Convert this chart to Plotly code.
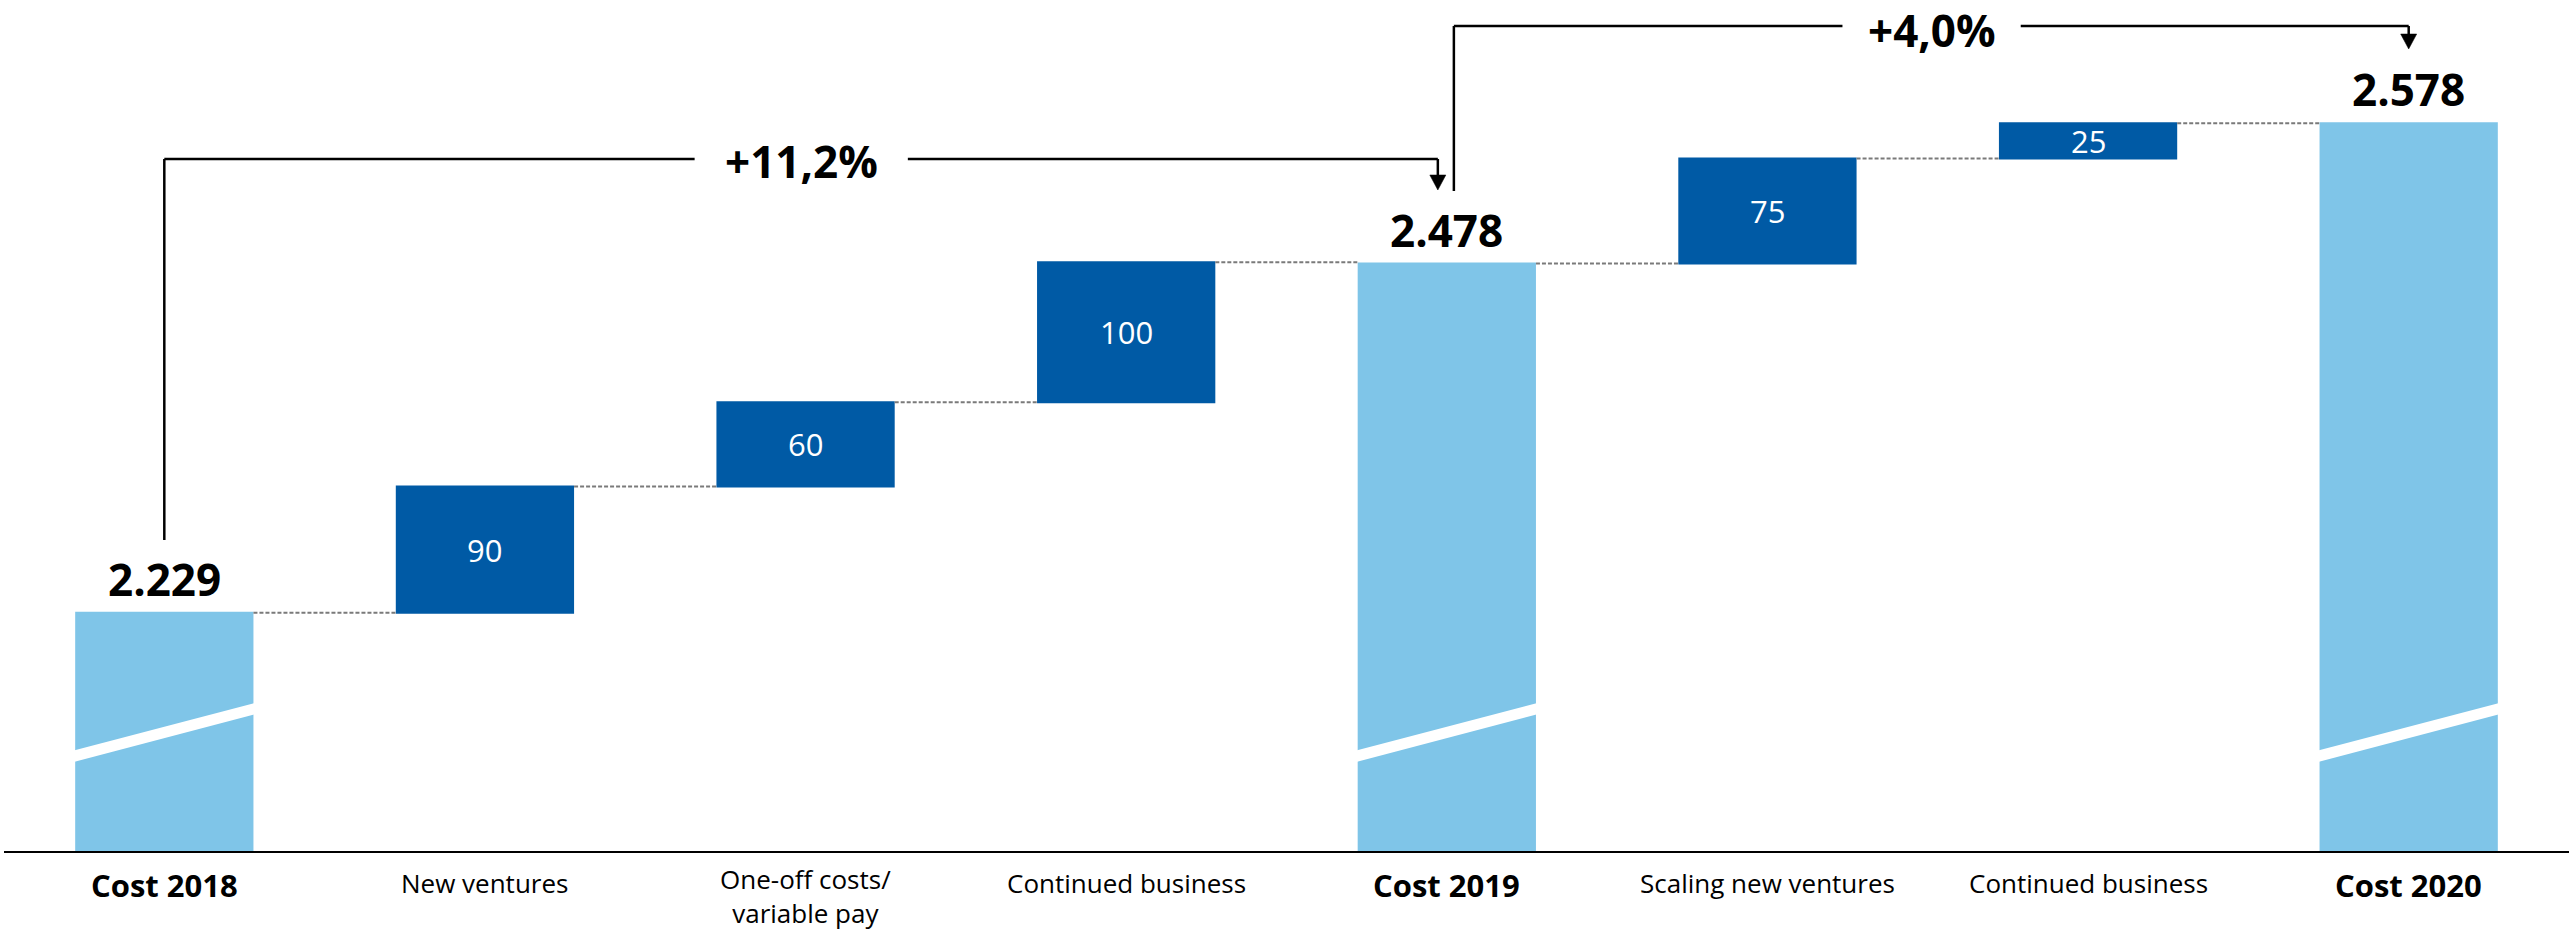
import plotly.graph_objects as go

# ---- data ----
categories = ["Cost 2018", "New ventures", "One-off costs/<br>variable pay", "Continued business",
              "Cost 2019", "Scaling new ventures", "Continued business", "Cost 2020"]
values = [2229, 90, 60, 100, 2478, 75, 25, 2578]
measures = ["absolute", "relative", "relative", "relative", "absolute", "relative", "relative", "absolute"]
value_labels = ["2.229", "90", "60", "100", "2.478", "75", "25", "2.578"]
growth_labels = ["+11,2%", "+4,0%"]
growth_from = [0, 4]
growth_to = [4, 7]

# ---- style ----
LIGHT = "#7FC5E8"
DARK = "#005AA5"
FONT = "Open Sans"
W, H = 2569, 931
MT, MB, ML, MR = 0, 80, 4, 0
Y_MIN, Y_MAX = 2059, 2666
BAR_W = 0.556
PLOT_H = H - MT - MB


def py(px):
    """pixel row from top -> paper y"""
    return (PLOT_H - (px - MT)) / PLOT_H


x = list(range(len(categories)))

fig = go.Figure(go.Waterfall(
    x=x, y=values, measure=measures,
    width=BAR_W,
    totals=dict(marker=dict(color=LIGHT)),
    increasing=dict(marker=dict(color=DARK)),
    decreasing=dict(marker=dict(color=DARK)),
    connector=dict(mode="between", line=dict(color="#7a7a7a", width=2, dash="4px,2px")),
    textinfo="none", hoverinfo="skip",
))

annotations = []
shapes = []

level = 0
for i, (m, v) in enumerate(zip(measures, values)):
    if m == "absolute":
        level = v
        annotations.append(dict(x=i, y=v, xref="x", yref="y", text="<b>%s</b>" % value_labels[i],
                                showarrow=False, yanchor="bottom", yshift=2,
                                font=dict(family=FONT, size=44, color="black")))
        # axis break marker
        shapes.append(dict(type="line", xref="x", yref="y",
                           x0=i - 0.29, x1=i + 0.29, y0=2126.1, y1=2161.0,
                           line=dict(color="white", width=11), layer="above"))
    else:
        annotations.append(dict(x=i, y=level + v / 2, xref="x", yref="y", text=value_labels[i],
                                showarrow=False, yanchor="middle",
                                font=dict(family=FONT, size=31, color="white")))
        level += v
    nlines = categories[i].count("<br>") + 1
    if m == "absolute":
        annotations.append(dict(x=i, y=0, xref="x", yref="paper", text="<b>%s</b>" % categories[i],
                                showarrow=False, yanchor="top", yshift=-11,
                                font=dict(family=FONT, size=31, color="black")))
    else:
        annotations.append(dict(x=i, y=0, xref="x", yref="paper", text=categories[i],
                                showarrow=False, yanchor="top", yshift=-12 if nlines == 1 else -8,
                                font=dict(family=FONT, size=26, color="black")))

# growth brackets
LW = 2.5
br = [
    dict(x0=growth_from[0], xa=growth_to[0] - 0.028, v0=540, top=159, gap=(1.654, 2.319), tx=1.987, tip=190, ty=161),
    dict(x0=growth_from[1] + 0.022, xa=growth_to[1], v0=191, top=26, gap=(5.234, 5.790), tx=5.512, tip=49, ty=30),
]
for k, b in enumerate(br):
    ln = dict(color="black", width=LW)
    shapes.append(dict(type="line", xref="x", yref="paper", x0=b["x0"], x1=b["x0"],
                       y0=py(b["v0"]), y1=py(b["top"]), line=ln))
    shapes.append(dict(type="line", xref="x", yref="paper", x0=b["x0"], x1=b["gap"][0],
                       y0=py(b["top"]), y1=py(b["top"]), line=ln))
    shapes.append(dict(type="line", xref="x", yref="paper", x0=b["gap"][1], x1=b["xa"],
                       y0=py(b["top"]), y1=py(b["top"]), line=ln))
    shapes.append(dict(type="line", xref="x", yref="paper", x0=b["xa"], x1=b["xa"],
                       y0=py(b["top"]), y1=py(b["tip"] - 14), line=ln))
    hx = 0.025
    shapes.append(dict(type="path", xref="x", yref="paper",
                       path="M %f,%f L %f,%f L %f,%f Z" % (b["xa"] - hx, py(b["tip"] - 15),
                                                        b["xa"] + hx, py(b["tip"] - 15),
                                                        b["xa"], py(b["tip"])),
                       fillcolor="black", line=dict(color="black", width=0.5)))
    annotations.append(dict(x=b["tx"], y=py(b["ty"]), xref="x", yref="paper",
                            text="<b>%s</b>" % growth_labels[k], showarrow=False,
                            yanchor="middle", borderpad=0,
                            font=dict(family=FONT, size=44, color="black")))

fig.update_layout(
    width=W, height=H,
    margin=dict(t=MT, b=MB, l=ML, r=MR, pad=0),
    paper_bgcolor="white", plot_bgcolor="white",
    showlegend=False,
    xaxis=dict(range=[-0.5, 7.5], showline=True, linecolor="black", linewidth=2,
               showticklabels=False, showgrid=False, zeroline=False, ticks=""),
    yaxis=dict(range=[Y_MIN, Y_MAX], visible=False, showgrid=False, zeroline=False),
    annotations=annotations,
    shapes=shapes,
    font=dict(family=FONT),
)

fig.write_html("out.html", config={"displayModeBar": False},
               post_script="document.body.style.margin='0';document.body.style.overflow='hidden';")
